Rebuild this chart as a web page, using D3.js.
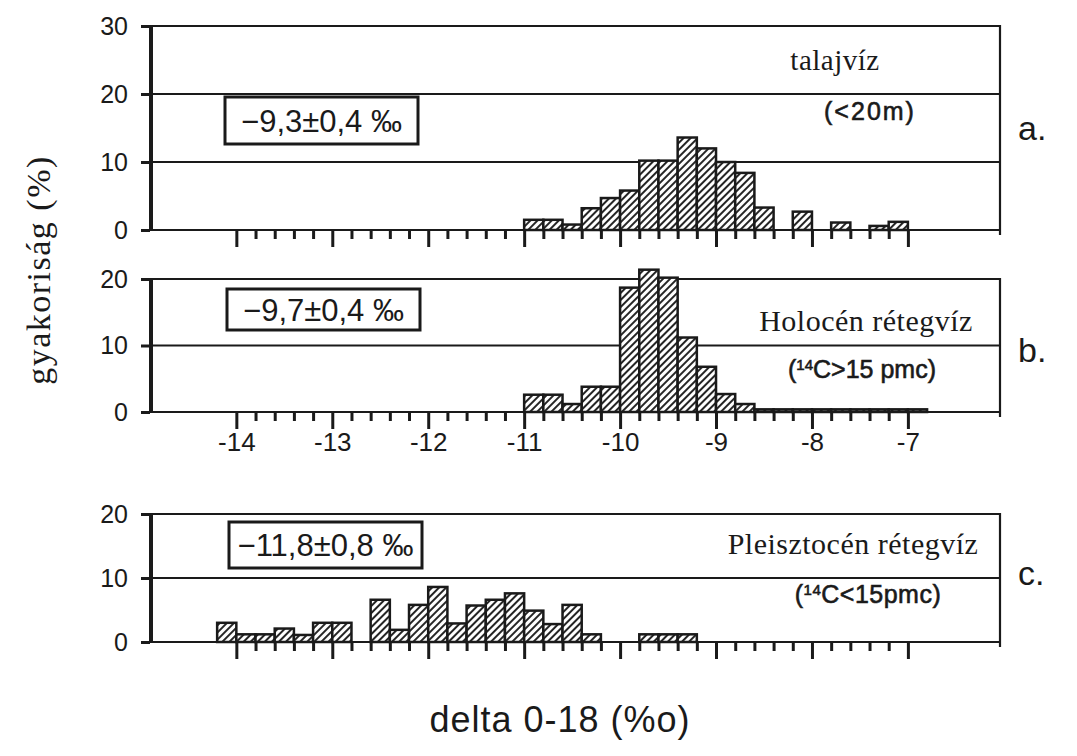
<!DOCTYPE html>
<html>
<head>
<meta charset="utf-8">
<script src="https://cdn.jsdelivr.net/npm/d3@7"></script>
<style>
    body { margin: 0; background: #fff; }
    .grid { stroke: #1a1a1a; stroke-width: 2.2; }
    .tick line { stroke: #1a1a1a; stroke-width: 3; }
    .tick text { font-family: "Liberation Sans", Arial, sans-serif; fill: #1a1a1a; }
    .bar { fill: url(#hatch); stroke: #1a1a1a; stroke-width: 2.5; }
    .serif { font-family: "Liberation Serif", "Times New Roman", serif; fill: #1a1a1a; }
    .sans { font-family: "Liberation Sans", Arial, sans-serif; fill: #1a1a1a; }
</style>
</head>
<body>
<svg id="chart" width="1077" height="756"></svg>
<script>
// bin width of the histograms (per mille)
var binWidth = 0.2;

// a. talajvíz (<20m)
var aStarts = [-11.0, -10.8, -10.6, -10.4, -10.2, -10.0, -9.8, -9.6, -9.4, -9.2, -9.0, -8.8, -8.6, -8.2, -7.8, -7.4, -7.2];
var aValues = [1.5, 1.5, 0.8, 3.2, 4.7, 5.8, 10.2, 10.2, 13.6, 12.0, 10.0, 8.4, 3.3, 2.7, 1.1, 0.6, 1.2];

// b. Holocén rétegvíz
var bStarts = [-11.0, -10.8, -10.6, -10.4, -10.2, -10.0, -9.8, -9.6, -9.4, -9.2, -9.0, -8.8, -8.6, -8.4, -8.2, -8.0, -7.8, -7.6, -7.4, -7.2, -7.0];
var bValues = [2.6, 2.6, 1.2, 3.8, 3.8, 18.7, 21.4, 20.2, 11.2, 6.8, 2.7, 1.2, 0.4, 0.4, 0.4, 0.4, 0.4, 0.4, 0.4, 0.4, 0.4];

// c. Pleisztocén rétegvíz
var cStarts = [-14.2, -14.0, -13.8, -13.6, -13.4, -13.2, -13.0, -12.6, -12.4, -12.2, -12.0, -11.8, -11.6, -11.4, -11.2, -11.0, -10.8, -10.6, -10.4, -9.8, -9.6, -9.4];
var cValues = [3.0, 1.2, 1.2, 2.1, 1.1, 3.0, 3.0, 6.6, 1.9, 5.8, 8.6, 2.9, 5.7, 6.6, 7.6, 4.9, 2.8, 5.8, 1.2, 1.2, 1.2, 1.2];

// axes
var majorTicks = [-14, -13, -12, -11, -10, -9, -8, -7];
var yTicksA = [0, 10, 20, 30];
var yTicksBC = [0, 10, 20];

var labels = ["a.", "b.", "c."];
var means = ["\u22129,3\u00b10,4 \u2030", "\u22129,7\u00b10,4 \u2030", "\u221211,8\u00b10,8 \u2030"];

var svg = d3.select("#chart")
    , left = 150
    , right = 1000
    ;

var x = d3.scaleLinear().domain([-14.9, -6.04]).range([left, right]);

var minorTicks = d3.range(0, 36).map(function(i) { return +(-14 + i * binWidth).toFixed(1); })
    .filter(function(v) { return majorTicks.indexOf(v) < 0; });

// hatching
var defs = svg.append("defs");
var pat = defs.append("pattern")
    .attr("id", "hatch")
    .attr("patternUnits", "userSpaceOnUse")
    .attr("width", 5)
    .attr("height", 5)
    .attr("patternTransform", "rotate(45)");
pat.append("rect").attr("width", 5).attr("height", 5).attr("fill", "#fff");
pat.append("line")
    .attr("x1", 1).attr("x2", 1)
    .attr("y1", 0).attr("y2", 5)
    .attr("stroke", "#1a1a1a")
    .attr("stroke-width", 1.9);

var panels = [
    {starts: aStarts, values: aValues, max: 30, ticks: yTicksA, top: 26, bottom: 230, box: [225, 97, 193, 47], showX: false},
    {starts: bStarts, values: bValues, max: 20, ticks: yTicksBC, top: 279, bottom: 412, box: [227, 289, 193, 41], showX: true},
    {starts: cStarts, values: cValues, max: 20, ticks: yTicksBC, top: 514, bottom: 642, box: [229, 522, 193, 46], showX: false}
];

panels.forEach(function(p, idx) {
    var y = d3.scaleLinear().domain([0, p.max]).range([p.bottom, p.top]);
    var g = svg.append("g").attr("class", "panel");

    // horizontal rules
    g.selectAll("line.grid")
        .data(p.ticks)
        .enter().append("line")
        .attr("class", "grid")
        .attr("x1", left)
        .attr("x2", right)
        .attr("y1", function(d) { return y(d); })
        .attr("y2", function(d) { return y(d); });

    // right frame
    g.append("line")
        .attr("class", "grid")
        .attr("x1", right).attr("x2", right)
        .attr("y1", y(p.max) - 1).attr("y2", y(0) + 5);

    // bars
    var bins = p.starts.map(function(s, i) { return {x0: s, v: p.values[i]}; });
    g.selectAll("rect.bar")
        .data(bins)
        .enter().append("rect")
        .attr("class", "bar")
        .attr("x", function(d) { return x(d.x0); })
        .attr("width", function(d) { return x(d.x0 + binWidth) - x(d.x0); })
        .attr("y", function(d) { return y(d.v); })
        .attr("height", function(d) { return y(0) - y(d.v); });

    // x ticks, labelled only under panel b
    var xMajor = d3.axisBottom(x).tickValues(majorTicks).tickSize(17).tickPadding(4)
        .tickFormat(function(d) { return p.showX ? "-" + Math.abs(d) : ""; });
    var xg = g.append("g")
        .attr("transform", "translate(0," + y(0) + ")")
        .call(xMajor);
    xg.select(".domain").remove();
    xg.selectAll("text").style("font-size", "26px");

    var xm = g.append("g")
        .attr("transform", "translate(0," + y(0) + ")")
        .call(d3.axisBottom(x).tickValues(minorTicks).tickSize(9).tickFormat(""));
    xm.select(".domain").remove();

    // y axis
    var yg = g.append("g")
        .attr("transform", "translate(" + left + ",0)")
        .call(d3.axisLeft(y).tickValues(p.ticks).tickSize(9).tickPadding(13));
    yg.select(".domain").remove();
    yg.selectAll("text").style("font-size", "25px");

    g.append("line")
        .attr("x1", left + 1).attr("x2", left + 1)
        .attr("y1", y(p.max)).attr("y2", y(0))
        .attr("stroke", "#1a1a1a")
        .attr("stroke-width", 4);

    // mean box
    g.append("rect")
        .attr("x", p.box[0]).attr("y", p.box[1])
        .attr("width", p.box[2]).attr("height", p.box[3])
        .attr("fill", "#fff")
        .attr("stroke", "#1a1a1a")
        .attr("stroke-width", 3);
    g.append("text")
        .attr("class", "sans")
        .attr("x", p.box[0] + p.box[2] / 2)
        .attr("y", p.box[1] + p.box[3] / 2 + 11)
        .attr("text-anchor", "middle")
        .style("font-size", "31px")
        .text(means[idx]);

    // panel letter
    svg.append("text")
        .attr("class", "sans")
        .attr("x", 1018)
        .attr("y", [140, 362, 585][idx])
        .style("font-size", "34px")
        .text(labels[idx]);
});

// panel titles
function title(txt, cx, by, cls, size, spacing) {
    return svg.append("text")
        .attr("class", cls)
        .attr("x", cx)
        .attr("y", by)
        .attr("text-anchor", "middle")
        .style("font-size", size + "px")
        .style("letter-spacing", spacing + "px")
        .text(txt);
}

title("talajvíz", 835, 70, "serif", 29, 0.5);
title("(<20m)", 870, 120, "sans", 25, 2).style("stroke", "#1a1a1a").style("stroke-width", 0.6);
title("Holocén rétegvíz", 866, 331, "serif", 30, 0.5);
title("Pleisztocén rétegvíz", 853, 554, "serif", 30, 0.5);

function c14(sign, rest, cx, by, spacing) {
    var t = svg.append("text")
        .attr("class", "sans")
        .attr("x", cx)
        .attr("y", by)
        .attr("text-anchor", "middle")
        .style("font-size", "25px")
        .style("letter-spacing", spacing + "px")
        .style("stroke", "#1a1a1a")
        .style("stroke-width", 0.6);
    t.append("tspan").text("(");
    t.append("tspan").attr("dy", -8).style("font-size", "15px").text("14");
    t.append("tspan").attr("dy", 8).text("C" + sign + rest + ")");
}
c14(">", "15 pmc", 862, 378, 0);
c14("<", "15pmc", 868, 603, 0.5);

// axis titles
svg.append("text")
    .attr("class", "serif")
    .attr("transform", "translate(50,270) rotate(-90)")
    .attr("text-anchor", "middle")
    .style("font-size", "34px")
    .style("letter-spacing", "1.5px")
    .text("gyakoriság (%)");

svg.append("text")
    .attr("class", "sans")
    .attr("x", 560)
    .attr("y", 732)
    .attr("text-anchor", "middle")
    .style("font-size", "36px")
    .style("letter-spacing", "1px")
    .text("delta 0-18 (%o)");
</script>
</body>
</html>
